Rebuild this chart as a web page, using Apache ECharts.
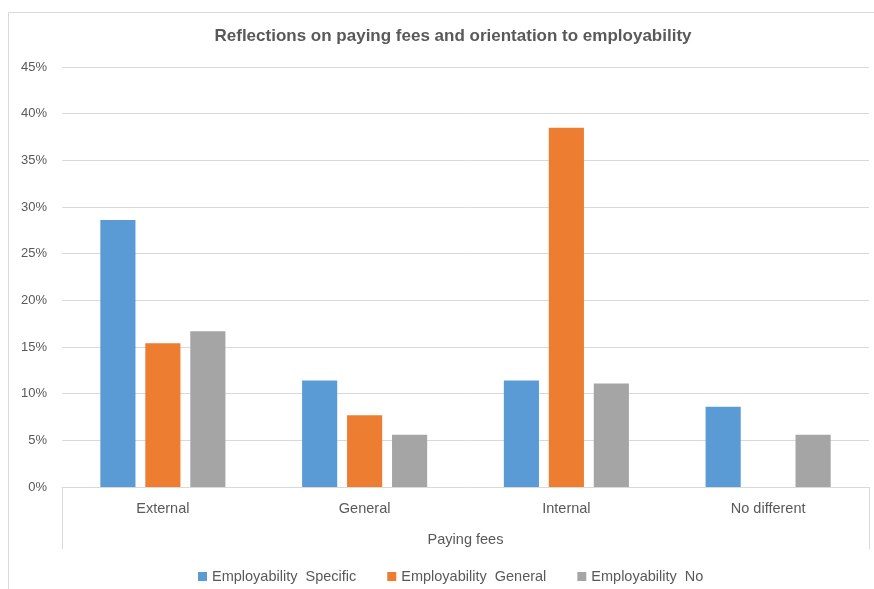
<!DOCTYPE html>
<html>
<head>
<meta charset="utf-8">
<script src="https://cdn.jsdelivr.net/npm/echarts@6/dist/echarts.min.js"></script>
<style>
  html, body { margin: 0; padding: 0; background: #fff; }
  #chart { width: 874px; height: 589px; }
</style>
</head>
<body>
<div id="chart"></div>
<script>
// Share of respondents (%) by view on paying fees, split by employability orientation
const categories = ['External', 'General', 'Internal', 'No different'];
const seriesNames = ['Employability  Specific', 'Employability  General', 'Employability  No'];
const specific = [28.6, 11.4, 11.4, 8.6];
const general = [15.4, 7.7, 38.5, null];
const noOrientation = [16.7, 5.6, 11.1, 5.6];
const yTicks = { min: 0, max: 45, step: 5 };

const colors = ['#5B9BD5', '#ED7D31', '#A5A5A5'];
const textColor = '#595959';
const lineColor = '#D9D9D9';
const fontFamily = '"Liberation Sans", Arial, sans-serif';

const chart = echarts.init(document.getElementById('chart'), null, { renderer: 'canvas' });

const values = [specific, general, noOrientation];

chart.setOption({
  animation: false,
  backgroundColor: '#fff',
  textStyle: { fontFamily: fontFamily },
  graphic: [{
    type: 'rect',
    shape: { x: 8.5, y: 12.5, width: 900, height: 620 },
    style: { fill: 'none', stroke: lineColor, lineWidth: 1 },
    silent: true,
    z: -1
  }],
  title: {
    text: 'Reflections on paying fees and orientation to employability',
    left: 448,
    top: 23,
    textAlign: 'center',
    textStyle: { fontSize: 17, fontWeight: 'bold', color: textColor, fontFamily: fontFamily }
  },
  legend: {
    left: 193,
    top: 564,
    itemWidth: 9,
    itemHeight: 9,
    itemGap: 31,
    icon: 'rect',
    textStyle: { fontSize: 14.5, color: textColor },
    data: seriesNames
  },
  grid: { left: 62, right: 5, top: 67, bottom: 102, containLabel: false },
  xAxis: {
    type: 'category',
    data: categories,
    name: 'Paying fees',
    nameLocation: 'middle',
    nameGap: 45,
    nameTextStyle: { fontSize: 14.5, color: textColor },
    axisLine: { show: true, lineStyle: { color: lineColor, width: 1 } },
    axisTick: {
      show: true,
      length: 62,
      interval: function (index) { return index === 0; },
      lineStyle: { color: lineColor, width: 1 }
    },
    axisLabel: { fontSize: 14.5, color: textColor, margin: 14 },
    splitLine: { show: false }
  },
  yAxis: {
    type: 'value',
    min: yTicks.min,
    max: yTicks.max,
    interval: yTicks.step,
    axisLine: { show: false },
    axisTick: { show: false },
    axisLabel: { fontSize: 13, color: textColor, margin: 15, formatter: '{value}%' },
    splitLine: { show: true, lineStyle: { color: lineColor, width: 1 } }
  },
  series: seriesNames.map(function (name, i) {
    return {
      name: name,
      type: 'bar',
      data: values[i],
      barGap: '28%',
      barCategoryGap: '38%',
      itemStyle: { color: colors[i] }
    };
  })
});
</script>
</body>
</html>
